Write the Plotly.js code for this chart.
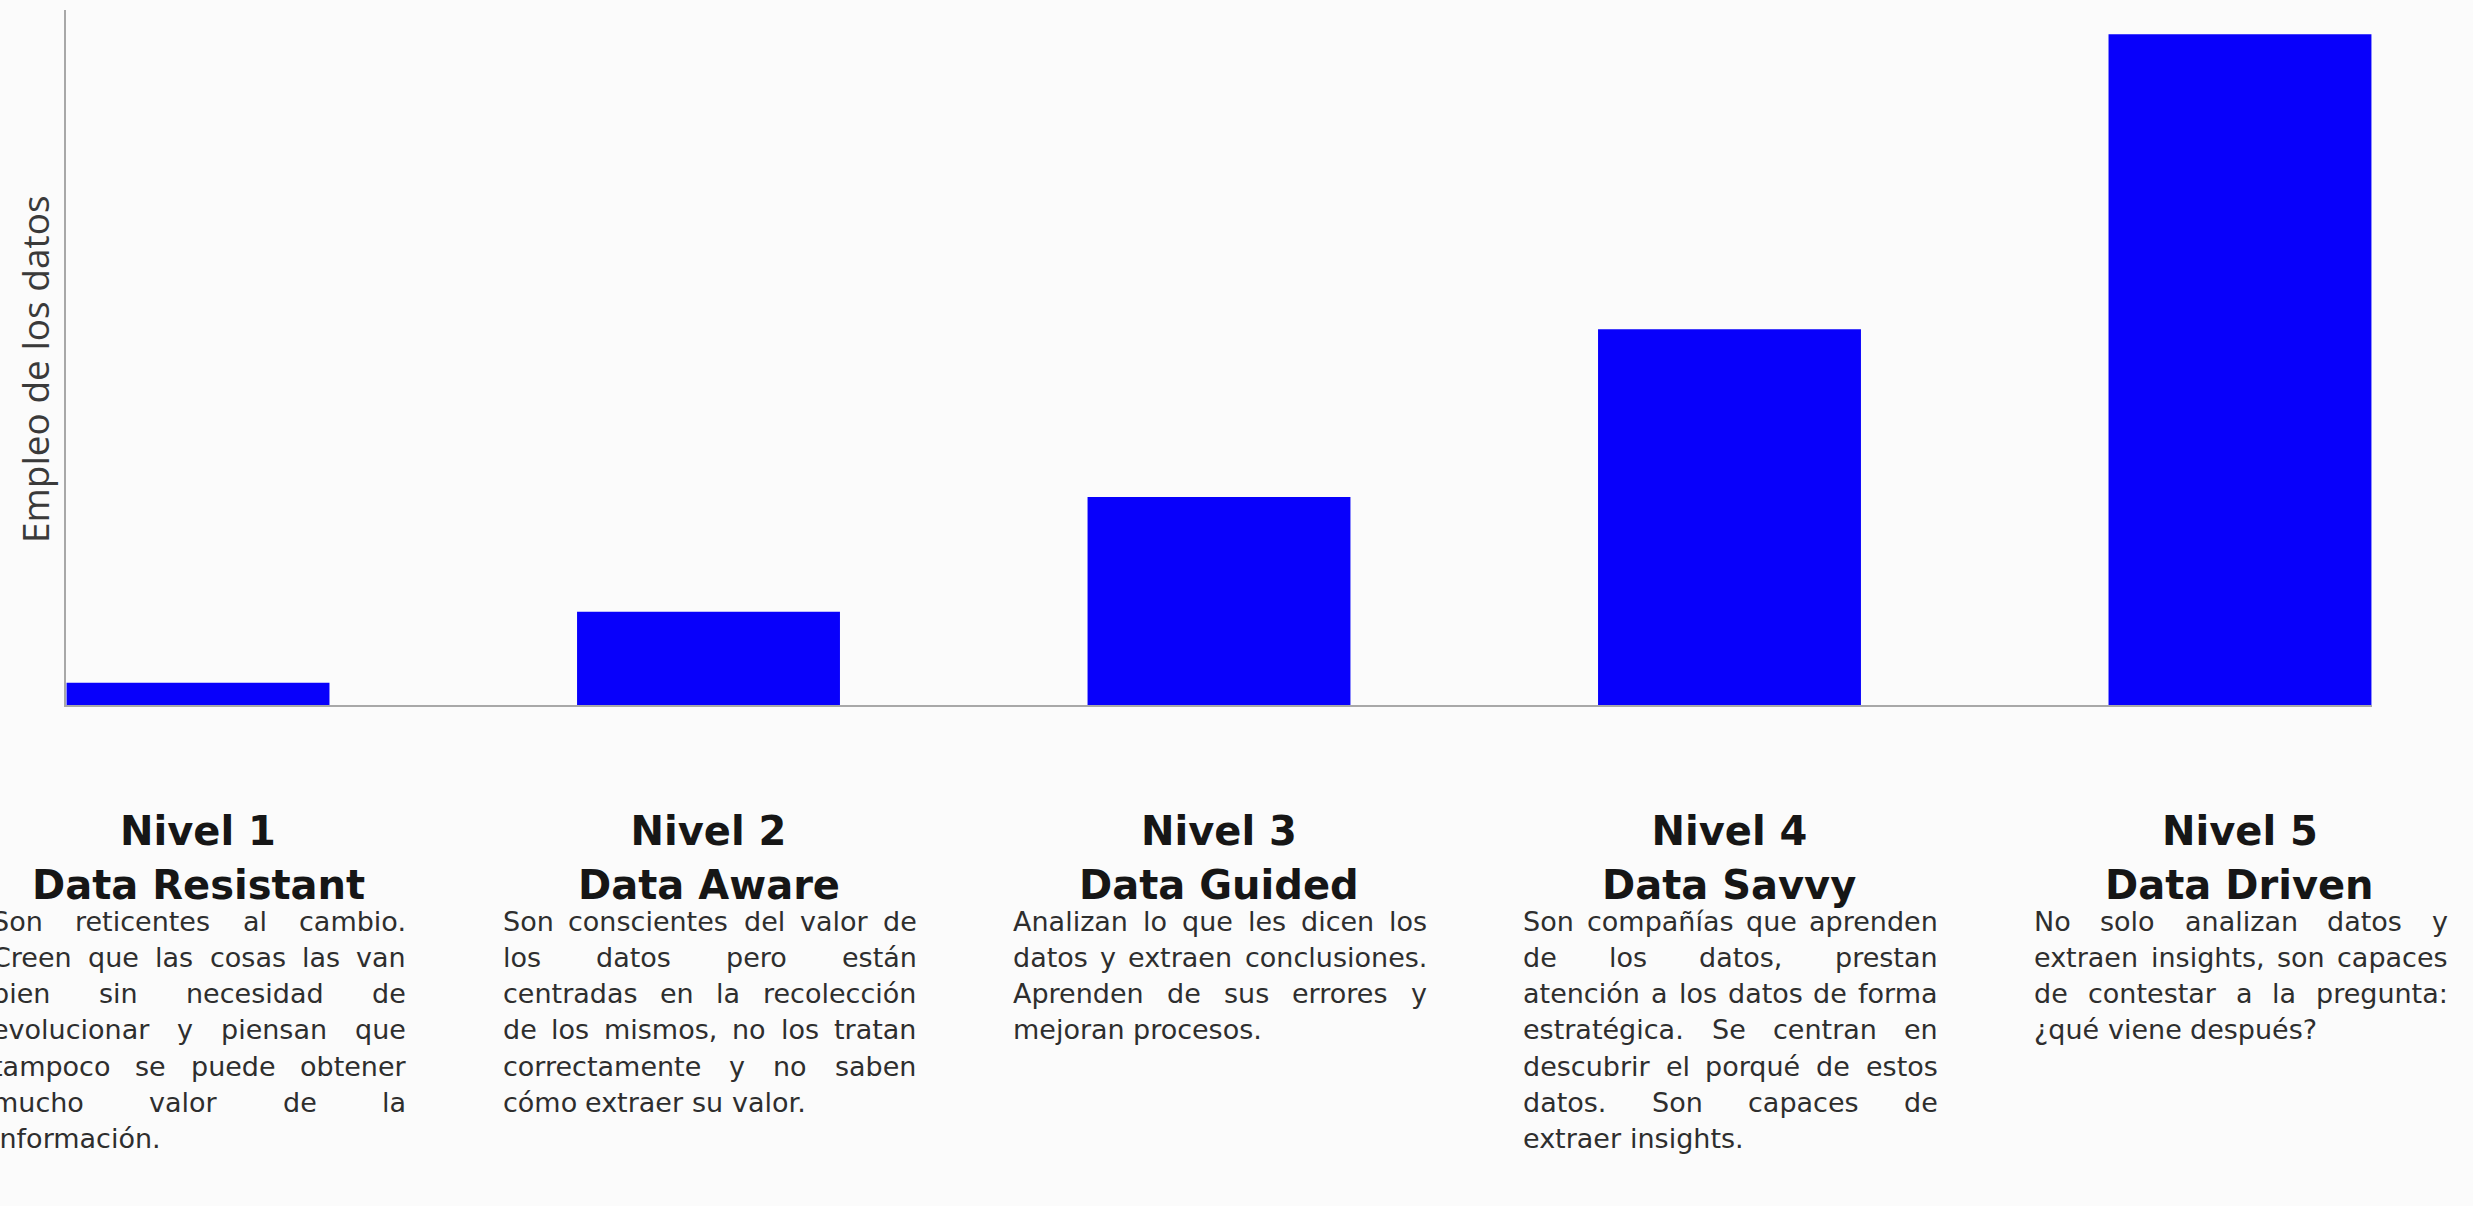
<!DOCTYPE html>
<html>
<head>
<meta charset="utf-8">
<script src="https://cdn.plot.ly/plotly-3.0.1.min.js"></script>
<style>
  html, body { margin: 0; padding: 0; background: #fbfbfb; }
  #chart { width: 2473px; height: 1206px; }
</style>
</head>
<body>
<div id="chart"></div>
<script>
// Maturity levels and how much each one makes use of its data
const levels = ['Nivel 1', 'Nivel 2', 'Nivel 3', 'Nivel 4', 'Nivel 5'];
const stages = ['Data Resistant', 'Data Aware', 'Data Guided', 'Data Savvy', 'Data Driven'];
const usage = [3.3, 13.9, 31, 56, 100];
const yTitle = 'Empleo de los datos';

// Description under each level, one entry per printed line
const desc1 = ['Son reticentes al cambio.', 'Creen que las cosas las van', 'bien sin necesidad de',
  'evolucionar y piensan que', 'tampoco se puede obtener', 'mucho valor de la', 'información.'];
const desc2 = ['Son conscientes del valor de', 'los datos pero están', 'centradas en la recolección',
  'de los mismos, no los tratan', 'correctamente y no saben', 'cómo extraer su valor.'];
const desc3 = ['Analizan lo que les dicen los', 'datos y extraen conclusiones.',
  'Aprenden de sus errores y', 'mejoran procesos.'];
const desc4 = ['Son compañías que aprenden', 'de los datos, prestan', 'atención a los datos de forma',
  'estratégica. Se centran en', 'descubrir el porqué de estos', 'datos. Son capaces de', 'extraer insights.'];
const desc5 = ['No solo analizan datos y', 'extraen insights, son capaces',
  'de contestar a la pregunta:', '¿qué viene después?'];
const descriptions = [desc1, desc2, desc3, desc4, desc5];

// Styling
const BAR_COLOR = '#0800fb';
const AXIS_COLOR = '#a8a8a8';
const BG = '#fbfbfb';
const HEAD_FONT = 'DejaVu Sans';
const HEAD_SIZE = 40;
const HEAD_COLOR = '#161616';
const BODY_FONT = 'DejaVu Sans';
const BODY_SIZE = 27;
const BODY_COLOR = '#2e2e2e';
const COL_WIDTH = 414;      // px width of each justified text column
const STAGE_LINE = 180;     // px from the baseline down to the stage name
const FIRST_LINE = 216;     // px from the baseline down to the first text line
const LINE_STEP = 36.3;     // px between text lines

const annotations = [];

// Stage name as the second line of each heading
stages.forEach((s, i) => {
  annotations.push({
    xref: 'x', x: i, xanchor: 'center',
    yref: 'paper', y: 0, yanchor: 'middle', yshift: -STAGE_LINE,
    text: s, showarrow: false, borderpad: 0,
    font: { family: HEAD_FONT, size: HEAD_SIZE, color: HEAD_COLOR, weight: 700 }
  });
});

// Each description set as fully justified text, word by word
const ctx = document.createElement('canvas').getContext('2d');
ctx.font = BODY_SIZE + 'px "' + BODY_FONT + '"';
const spaceW = ctx.measureText(' ').width;

descriptions.forEach((lines, ci) => {
  lines.forEach((line, li) => {
    const words = line.split(/\s+/);
    const widths = words.map(w => ctx.measureText(w).width);
    const total = widths.reduce((a, b) => a + b, 0);
    const last = li === lines.length - 1;
    const gap = (!last && words.length > 1) ? (COL_WIDTH - total) / (words.length - 1) : spaceW;
    let offset = 0;
    words.forEach((w, wi) => {
      annotations.push({
        xref: 'x', x: ci, xanchor: 'left', xshift: -COL_WIDTH / 2 + offset,
        yref: 'paper', y: 0, yanchor: 'middle', yshift: -(FIRST_LINE + li * LINE_STEP),
        text: w, showarrow: false, borderpad: 0,
        font: { family: BODY_FONT, size: BODY_SIZE, color: BODY_COLOR }
      });
      offset += widths[wi] + gap;
    });
  });
});

// Vertical axis title
annotations.push({
  xref: 'paper', x: 0, xanchor: 'center', xshift: -31,
  yref: 'paper', y: 0.4835, yanchor: 'middle',
  text: yTitle, textangle: -90, showarrow: false,
  font: { family: 'Open Sans', size: 37, color: '#3a3a3a' }
});

const trace = {
  type: 'bar',
  x: levels,
  y: usage,
  width: 0.515,
  marker: { color: BAR_COLOR, line: { width: 0 } },
  hoverinfo: 'skip'
};

const layout = {
  width: 2473,
  height: 1206,
  paper_bgcolor: BG,
  plot_bgcolor: BG,
  margin: { l: 66, r: 101, t: 10, b: 501 },
  showlegend: false,
  xaxis: {
    type: 'category',
    range: [-0.2586, 4.2586],
    showline: true, linecolor: AXIS_COLOR, linewidth: 2,
    showgrid: false, zeroline: false,
    ticks: 'outside', ticklen: 90, tickcolor: 'rgba(0,0,0,0)',
    tickfont: { family: HEAD_FONT, size: HEAD_SIZE, color: HEAD_COLOR, weight: 700 },
    automargin: false
  },
  yaxis: {
    range: [0, 103.6],
    showline: true, linecolor: AXIS_COLOR, linewidth: 2,
    showgrid: false, zeroline: false, showticklabels: false, ticks: '',
    automargin: false
  },
  annotations: annotations
};

Plotly.newPlot('chart', [trace], layout, { displayModeBar: false, staticPlot: true });
</script>
</body>
</html>
